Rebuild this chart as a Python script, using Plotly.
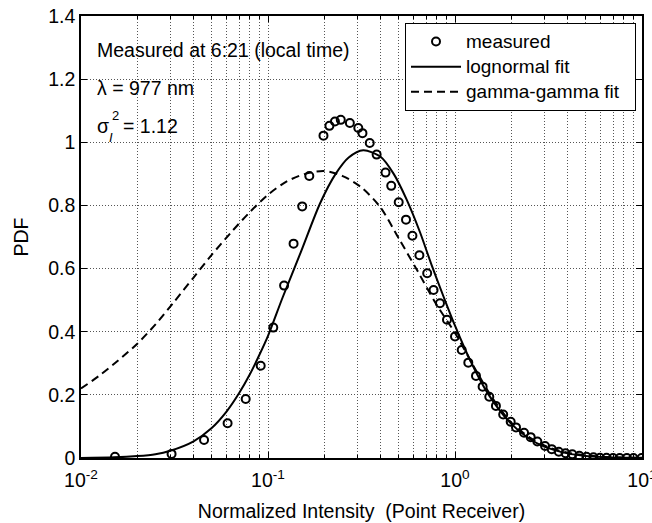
import plotly.graph_objects as go

# ---- data ----
meas_x = [0.0152, 0.0305, 0.0455, 0.0608, 0.076, 0.0914, 0.1067, 0.1219, 0.137, 0.1524,
          0.1663, 0.198, 0.213, 0.228, 0.245, 0.274, 0.304, 0.32, 0.35, 0.381,
          0.425, 0.456, 0.50, 0.547, 0.592, 0.645, 0.71, 0.768, 0.831, 0.906,
          1.0, 1.086, 1.178, 1.295, 1.405, 1.525, 1.655, 1.81, 1.985, 2.12,
          2.34, 2.54, 2.756, 3.03, 3.29, 3.59, 3.9, 4.24, 4.62, 5.05,
          5.5, 5.96, 6.46, 7.0, 7.6, 8.3, 9.0, 9.95]
meas_y = [0.004, 0.013, 0.057, 0.11, 0.187, 0.292, 0.413, 0.546, 0.679, 0.797,
          0.893, 1.021, 1.052, 1.066, 1.071, 1.061, 1.045, 1.029, 0.998, 0.961,
          0.904, 0.862, 0.81, 0.755, 0.704, 0.642, 0.585, 0.532, 0.49, 0.438,
          0.385, 0.342, 0.302, 0.26, 0.226, 0.194, 0.165, 0.138, 0.115, 0.097,
          0.08, 0.066, 0.052, 0.038, 0.028, 0.02, 0.015, 0.012, 0.007, 0.004,
          0.002, 0.001, 0.0005, 0.0, 0.0, 0.0, 0.0, 0.0]

logn_x = [0.01, 0.015, 0.02, 0.025, 0.03, 0.04, 0.05, 0.06, 0.07, 0.08, 0.09, 0.1,
          0.12, 0.15, 0.19, 0.23, 0.27, 0.323, 0.4, 0.47, 0.55, 0.65, 0.75, 0.87,
          1.0, 1.2, 1.5, 2.0, 2.5, 3.0, 4.0, 5.0, 7.0, 10.0]
logn_y = [0.0003, 0.002, 0.006, 0.012, 0.023, 0.053, 0.095, 0.147, 0.205, 0.265, 0.327, 0.387,
          0.51, 0.653, 0.807, 0.9, 0.952, 0.975, 0.954, 0.9, 0.82, 0.715, 0.611, 0.51,
          0.419, 0.312, 0.204, 0.108, 0.061, 0.036, 0.0146, 0.0067, 0.0018, 0.0004]

gg_x = [0.01, 0.0126, 0.0158, 0.02, 0.0251, 0.0316, 0.0398, 0.0501, 0.0631, 0.0794,
        0.1, 0.126, 0.158, 0.2, 0.251, 0.316, 0.398, 0.501, 0.631, 0.794,
        1.0, 1.26, 1.585, 2.0, 2.51, 3.16, 3.98, 5.01, 6.31, 7.94, 10.0]
gg_y = [0.22, 0.262, 0.309, 0.362, 0.424, 0.496, 0.57, 0.644, 0.713, 0.777,
        0.834, 0.876, 0.9, 0.909, 0.893, 0.857, 0.795, 0.695, 0.592, 0.487,
        0.396, 0.29, 0.19, 0.112, 0.065, 0.034, 0.017, 0.008, 0.0035, 0.0015, 0.0006]

series_names = ["measured", "lognormal fit", "gamma-gamma fit"]

x_tickvals = [0.01, 0.1, 1, 10]
x_ticktext = ["10<sup>-2</sup>", "10<sup>-1</sup>", "10<sup>0</sup>", "10<sup>1</sup>"]
x_minor = [m * d for d in (0.01, 0.1, 1) for m in range(2, 10)]

FONT = "Liberation Sans, Arial, Helvetica, sans-serif"
FS = 19.5

L, R, T, B = 81, 10, 16, 65
W, H = 652, 523
PW, PH = W - L - R, H - T - B


def px(xp):
    return (xp - L) / PW


def py(yp):
    return (T + PH - yp) / PH


def leg(name, pad=""):
    return '<span style="font-size:19px">' + name + pad + "</span>"


fig = go.Figure()
fig.add_trace(go.Scatter(
    x=meas_x, y=meas_y, mode="markers", name=leg(series_names[0]),
    marker=dict(symbol="circle-open", size=8, color="black",
                line=dict(width=2, color="black"))))
fig.add_trace(go.Scatter(
    x=logn_x, y=logn_y, mode="lines", name=leg(series_names[1]),
    line=dict(color="black", width=2, shape="spline", smoothing=0.8)))
fig.add_trace(go.Scatter(
    x=gg_x, y=gg_y, mode="lines", name=leg(series_names[2], "&nbsp;&nbsp;"),
    line=dict(color="black", width=2, dash="8px,5px", shape="spline", smoothing=0.8)))

grid = dict(gridcolor="#555555", griddash="1px,2px", gridwidth=1)

fig.update_xaxes(
    type="log", range=[-2, 1], tickmode="array", tickvals=x_tickvals, ticktext=x_ticktext,
    showline=True, linecolor="black", linewidth=1.5, mirror="ticks",
    ticks="inside", ticklen=6, tickcolor="black", tickwidth=1,
    showgrid=True, **grid,
    minor=dict(tickmode="array", tickvals=x_minor, ticks="inside", ticklen=3,
               tickcolor="black", showgrid=True, **grid),
    tickfont=dict(family=FONT, size=FS, color="black"),
    ticklabeloverflow="allow", ticklabelstandoff=4, automargin=False,
    title=dict(text="Normalized Intensity  (Point Receiver)",
               font=dict(family=FONT, size=FS, color="black"), standoff=14),
    zeroline=False,
)
fig.update_yaxes(
    range=[0, 1.4], dtick=0.2, tick0=0,
    showline=True, linecolor="black", linewidth=1.5, mirror="ticks",
    ticks="inside", ticklen=6, tickcolor="black", tickwidth=1,
    showgrid=True, **grid, automargin=False,
    tickfont=dict(family=FONT, size=FS, color="black"),
    title=dict(text="PDF", font=dict(family=FONT, size=FS, color="black"), standoff=14),
    zeroline=False,
)

ann_font = dict(family=FONT, size=FS, color="black")
small_font = dict(family=FONT, size=13, color="black")
annotations = [
    dict(text="Measured at 6:21 (local time)", x=px(96), y=py(50), font=ann_font),
    dict(text="λ = 977 nm", x=px(96), y=py(88), font=ann_font),
    dict(text="σ", x=px(96), y=py(126), font=ann_font),
    dict(text="2", x=px(111), y=py(116), font=small_font),
    dict(text="<i>I</i>", x=px(108), y=py(137), font=small_font),
    dict(text="= 1.12", x=px(122), y=py(126), font=ann_font),
]
for a in annotations:
    a.update(xref="paper", yref="paper", xanchor="left", yanchor="middle",
             showarrow=False, borderpad=0)

fig.update_layout(
    width=W, height=H, margin=dict(l=L, r=R, t=T, b=B, pad=0, autoexpand=False),
    paper_bgcolor="white", plot_bgcolor="white",
    font=dict(family=FONT, size=FS, color="black"),
    annotations=annotations,
    legend=dict(x=px(405), y=py(23), xanchor="left", yanchor="top",
                bgcolor="white", bordercolor="black", borderwidth=1,
                font=dict(family=FONT, size=17, color="black"),
                itemwidth=50, tracegroupgap=0),
    showlegend=True,
)

fig.write_html("out.html")
